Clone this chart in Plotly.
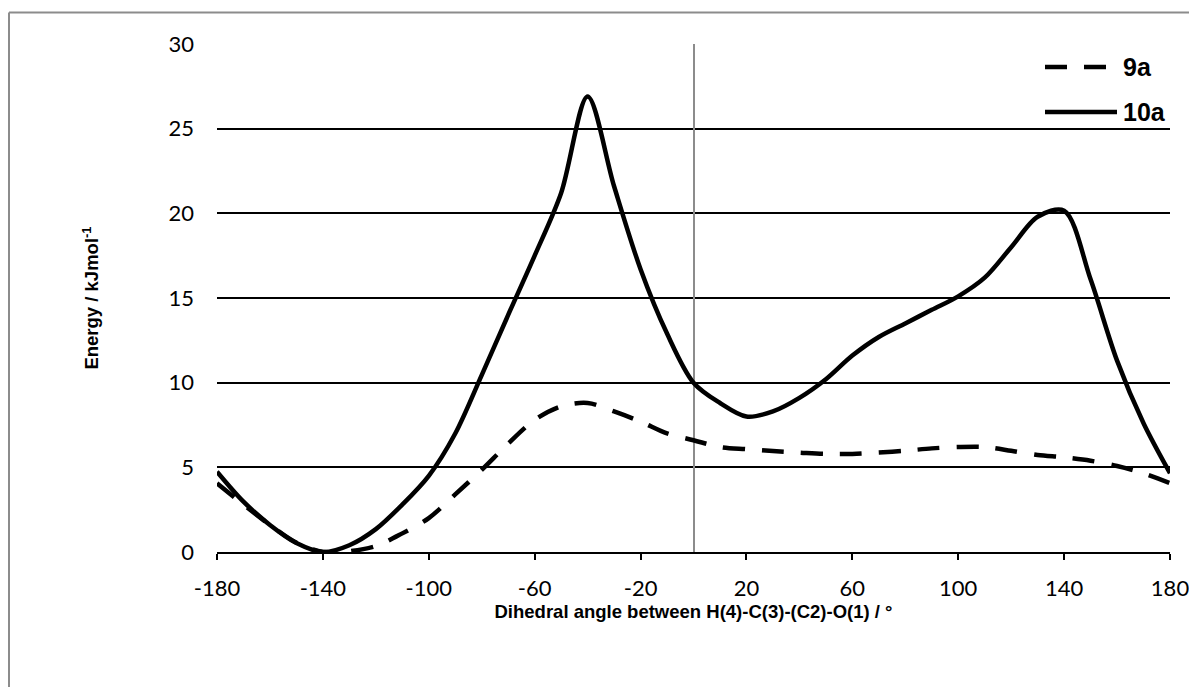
import plotly.graph_objects as go

# Data
angles = [-180, -170, -160, -150, -140, -130, -120, -110, -100, -90, -80, -70, -60, -50,
          -40, -30, -20, -10, 0, 10, 20, 30, 40, 50, 60, 70, 80, 90, 100, 110, 120, 130,
          140, 150, 160, 170, 180]

energy_9a = [4.06, 2.8, 1.6, 0.55, 0.0, 0.05, 0.35, 1.1, 2.0, 3.4, 4.85, 6.4, 7.8, 8.6,
             8.8, 8.3, 7.7, 7.0, 6.6, 6.2, 6.07, 5.96, 5.87, 5.79, 5.79, 5.87, 5.98, 6.12,
             6.2, 6.2, 5.98, 5.73, 5.59, 5.39, 5.08, 4.65, 4.07]

energy_10a = [4.74, 2.97, 1.6, 0.53, 0.0, 0.4, 1.35, 2.8, 4.5, 7.0, 10.45, 14.0, 17.5, 21.2,
              26.9, 21.6, 16.7, 12.9, 10.0, 8.8, 8.0, 8.3, 9.1, 10.2, 11.6, 12.7, 13.5, 14.3,
              15.1, 16.2, 18.0, 19.8, 20.15, 16.1, 11.3, 7.6, 4.65]

series_names = ["9a", "10a"]
x_ticks = [-180, -140, -100, -60, -20, 20, 60, 100, 140, 180]
y_ticks = [0, 5, 10, 15, 20, 25, 30]

x_title = "Dihedral angle between H(4)-C(3)-(C2)-O(1) / °"
y_title = "Energy / kJmol<sup>-1</sup>"

# The page body adds an 8px offset; size the figure so the plot area lands where the reference has it
OFF = 8
W, H = 1197 - OFF, 687 - OFF
L, R, T, B = 217 - OFF, 27, 44 - OFF, 135
pw, ph = W - L - R, H - T - B


def px_to_paper_x(px):
    return (px - OFF - L) / pw


def py_to_paper_y(py):
    return (H - B - (py - OFF)) / ph


DASH = "22px,17px"

fig = go.Figure()
fig.add_trace(go.Scatter(
    x=angles, y=energy_9a, name=series_names[0], mode="lines",
    line=dict(color="black", width=4.5, dash=DASH, shape="spline", smoothing=0.9),
    showlegend=False,
))
fig.add_trace(go.Scatter(
    x=angles, y=energy_10a, name=series_names[1], mode="lines",
    line=dict(color="black", width=4.5, shape="spline", smoothing=0.9),
    showlegend=False,
))

tick_font = dict(family="Lato, Open Sans, sans-serif", size=22, color="black")
title_font = dict(family="Liberation Sans, Arial, sans-serif", size=18.5, color="black", weight="bold")

fig.update_layout(
    width=W, height=H,
    margin=dict(l=L, r=R, t=T, b=B, autoexpand=False),
    paper_bgcolor="white", plot_bgcolor="white",
    xaxis=dict(
        range=[-180, 180], tickmode="array", tickvals=x_ticks,
        ticktext=[str(v) for v in x_ticks],
        showgrid=False, showline=True, linecolor="black", linewidth=1.5,
        ticks="outside", ticklen=6, tickwidth=1.5, tickcolor="black",
        zeroline=True, zerolinecolor="#8c8c8c", zerolinewidth=1.5,
        tickfont=tick_font, ticklabelstandoff=10,
        title=dict(text=x_title, font=title_font, standoff=4),
        automargin=False, fixedrange=True,
    ),
    yaxis=dict(
        range=[0, 30], tickmode="array", tickvals=y_ticks,
        showgrid=True, gridcolor="black", gridwidth=1.5,
        showline=False, zeroline=False, ticks="",
        tickfont=tick_font, ticklabelstandoff=22,
        title=dict(text=y_title, font=title_font, standoff=64),
        automargin=False, fixedrange=True,
    ),
)

# Outer chart-area border (top and left edges visible in the reference)
border = dict(color="#8c8c8c", width=2)
fig.add_shape(type="line", xref="paper", yref="paper",
              x0=px_to_paper_x(9), x1=px_to_paper_x(1205),
              y0=py_to_paper_y(12.5), y1=py_to_paper_y(12.5), line=border)
fig.add_shape(type="line", xref="paper", yref="paper",
              x0=px_to_paper_x(9), x1=px_to_paper_x(9),
              y0=py_to_paper_y(12.5), y1=py_to_paper_y(700), line=border)

# Legend (drawn as samples + labels, matching the reference layout)
legend_rows = [(series_names[0], 67, 1107, DASH), (series_names[1], 112, 1117, "solid")]
legend_font = dict(family="Liberation Sans, Arial, sans-serif", size=25, color="black", weight="bold")
for name, py, x_end, dash in legend_rows:
    fig.add_shape(type="line", xref="paper", yref="paper",
                  x0=px_to_paper_x(1045), x1=px_to_paper_x(x_end),
                  y0=py_to_paper_y(py), y1=py_to_paper_y(py),
                  line=dict(color="black", width=4.5, dash=dash))
    fig.add_annotation(xref="paper", yref="paper",
                       x=px_to_paper_x(1121), y=py_to_paper_y(py),
                       text=name, showarrow=False, xanchor="left", yanchor="middle",
                       font=legend_font)

fig.write_html("out.html")
